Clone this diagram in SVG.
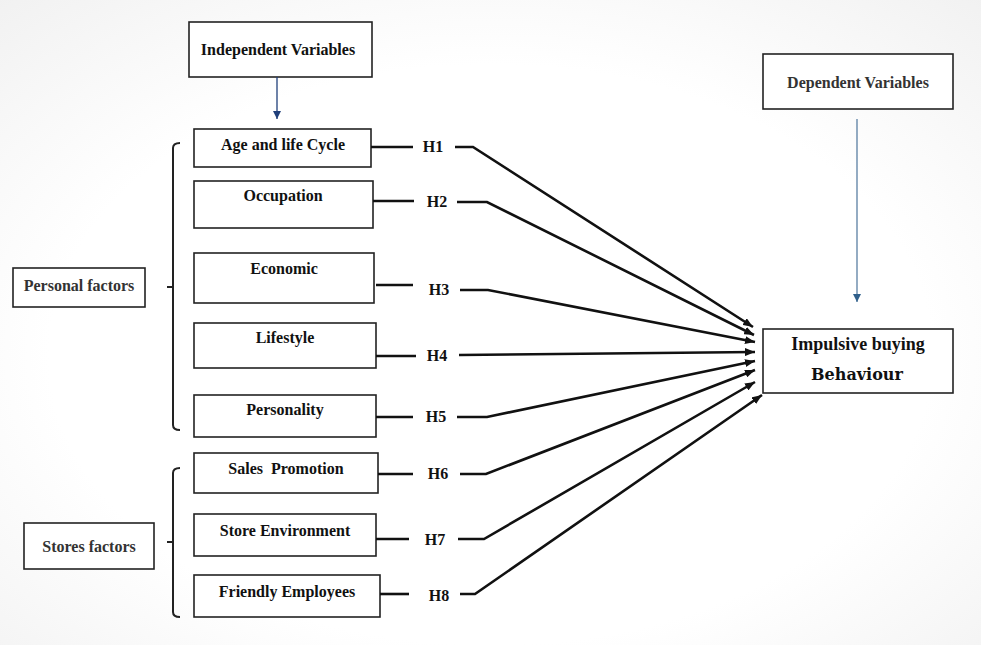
<svg xmlns="http://www.w3.org/2000/svg" width="981" height="645" viewBox="0 0 981 645">
<defs>
<radialGradient id="bg" cx="0.5" cy="0.55" r="0.75">
<stop offset="0.6" stop-color="#ffffff"/>
<stop offset="1" stop-color="#f1f1f1"/>
</radialGradient>
<marker id="ah" viewBox="0 0 10 8" refX="10" refY="4" markerWidth="10" markerHeight="8" markerUnits="userSpaceOnUse" orient="auto">
<path d="M0,0 L10,4 L0,8 z" fill="#111"/>
</marker>
<marker id="ahb" viewBox="0 0 8 8" refX="8" refY="4" markerWidth="8" markerHeight="8" markerUnits="userSpaceOnUse" orient="auto">
<path d="M0,0 L8,4 L0,8 z" fill="#1f3f7a"/>
</marker>
<marker id="ahs" viewBox="0 0 8 8" refX="8" refY="4" markerWidth="8" markerHeight="8" markerUnits="userSpaceOnUse" orient="auto">
<path d="M0,0 L8,4 L0,8 z" fill="#2f5f8a"/>
</marker>
</defs>
<style>
.box{fill:#fff;stroke:#222;stroke-width:1.6}
.t{font-family:"Liberation Serif","Times New Roman",serif;font-weight:bold;fill:#111;text-anchor:middle}
.s16{font-size:16px}
.g{fill:#333}
.c{fill:none;stroke:#111;stroke-width:2.6;stroke-linejoin:miter}
.br{fill:none;stroke:#222;stroke-width:2}
</style>
<rect width="981" height="645" fill="url(#bg)"/>

<g id="independent">
<rect class="box" x="189" y="22" width="183" height="55"/>
<text class="t s16" x="278" y="55">Independent Variables</text>
</g>
<g id="dependent">
<rect class="box" x="763" y="54" width="190" height="55"/>
<text class="t s16 g" x="858" y="88">Dependent Variables</text>
</g>
<g id="age">
<rect class="box" x="194" y="129" width="177" height="38"/>
<text class="t s16" x="283" y="150">Age and life Cycle</text>
</g>
<g id="occupation">
<rect class="box" x="194" y="181" width="179" height="47"/>
<text class="t s16" x="283" y="201">Occupation</text>
</g>
<g id="economic">
<rect class="box" x="194" y="253" width="180" height="50"/>
<text class="t s16" x="284" y="274">Economic</text>
</g>
<g id="lifestyle">
<rect class="box" x="194" y="323" width="182" height="45"/>
<text class="t s16" x="285" y="343">Lifestyle</text>
</g>
<g id="personality">
<rect class="box" x="194" y="395" width="182" height="42"/>
<text class="t s16" x="285" y="415">Personality</text>
</g>
<g id="sales">
<rect class="box" x="194" y="453" width="184" height="40"/>
<text class="t s16" x="286" y="474" xml:space="preserve">Sales  Promotion</text>
</g>
<g id="store">
<rect class="box" x="194" y="514" width="182" height="42"/>
<text class="t s16" x="285" y="536">Store Environment</text>
</g>
<g id="friendly">
<rect class="box" x="194" y="575" width="186" height="42"/>
<text class="t s16" x="287" y="597">Friendly Employees</text>
</g>
<g id="personal">
<rect class="box" x="13" y="268" width="132" height="39"/>
<text class="t s16 g" x="79" y="291">Personal factors</text>
</g>
<g id="stores">
<rect class="box" x="24" y="523" width="130" height="46"/>
<text class="t s16 g" x="89" y="552">Stores factors</text>
</g>
<g id="impulsive">
<rect class="box" x="763" y="329" width="190" height="64"/>
<text class="t" style="font-size:18px" x="858" y="350">Impulsive buying</text>
<text x="857" y="380" style="font-family:'DejaVu Serif',serif;font-weight:bold;font-size:16px;fill:#111;text-anchor:middle">Behaviour</text>
</g>

<g id="labels">
<text class="t s16" x="433" y="152">H1</text>
<text class="t s16" x="437" y="207">H2</text>
<text class="t s16" x="439" y="295">H3</text>
<text class="t s16" x="437" y="361">H4</text>
<text class="t s16" x="436" y="422">H5</text>
<text class="t s16" x="438" y="479">H6</text>
<text class="t s16" x="435" y="545">H7</text>
<text class="t s16" x="439" y="601">H8</text>
</g>

<g id="connectors">
<path class="br" d="M180,143 Q173,143 173,148 L173,425 Q173,430 180,430 M173,287 L167,287"/>
<path class="br" d="M180,468 Q173,468 173,473 L173,612 Q173,617 180,617 M173,542 L167,542"/>
<line x1="277" y1="77" x2="277" y2="119" stroke="#1f3f7a" stroke-width="1.3" marker-end="url(#ahb)"/>
<line x1="857" y1="119" x2="857" y2="302" stroke="#5a7fa3" stroke-width="1.3" marker-end="url(#ahs)"/>
<path class="c" d="M371,147 H413"/>
<path class="c" d="M373,201 H414"/>
<path class="c" d="M376,285 H413"/>
<path class="c" d="M376,356 H416"/>
<path class="c" d="M376,417 H413"/>
<path class="c" d="M378,474 H413"/>
<path class="c" d="M376,539 H409"/>
<path class="c" d="M380,594 H409"/>
<path class="c" d="M455,147 L473,147 L753,327" marker-end="url(#ah)"/>
<path class="c" d="M457,202 L487,202 L754,335" marker-end="url(#ah)"/>
<path class="c" d="M460,290 L488,290 L755,342" marker-end="url(#ah)"/>
<path class="c" d="M459,355 L755,352" marker-end="url(#ah)"/>
<path class="c" d="M457,417 L487,417 L755,361" marker-end="url(#ah)"/>
<path class="c" d="M460,474 L486,474 L755,370" marker-end="url(#ah)"/>
<path class="c" d="M458,539 L484,539 L755,382" marker-end="url(#ah)"/>
<path class="c" d="M460,594 L475,594 L762,395" marker-end="url(#ah)"/>
</g>
</svg>
